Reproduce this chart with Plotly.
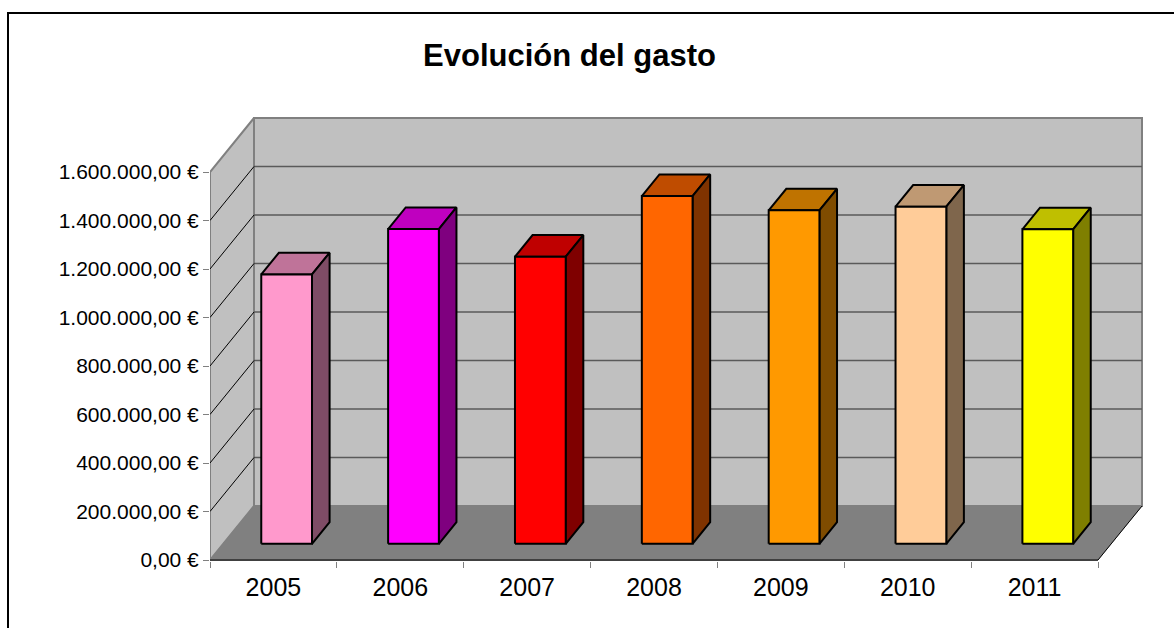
import plotly.graph_objects as go

# ---------------- data ----------------
years = ["2005", "2006", "2007", "2008", "2009", "2010", "2011"]
gasto = [1111000, 1298000, 1184000, 1434000, 1375000, 1390000, 1297000]
y_ticks = [0, 200000, 400000, 600000, 800000, 1000000, 1200000, 1400000, 1600000]


def euro(v):
    s = f"{v:,.2f}".replace(",", "X").replace(".", ",").replace("X", ".")
    return s + " €"


y_tick_labels = [euro(v) for v in y_ticks]

# ---------------- style ----------------
front_colors = ["#FF99CC", "#FF00FF", "#FF0000", "#FF6600", "#FF9900", "#FFCC99", "#FFFF00"]
top_colors = ["#BF7399", "#BF00BF", "#BF0000", "#BF4C00", "#BF7300", "#BF9973", "#BFBF00"]
side_colors = ["#7F4C66", "#7F007F", "#7F0000", "#7F3300", "#7F4C00", "#7F664C", "#7F7F00"]
FONT = "Liberation Sans, Arial, sans-serif"

W, H = 1174, 628
L, R, T, B = 210, 24, 100, 67
CAT_PX = 888 / 7            # pixels per category on the front plane
UNITS_PER_PX = 4123.7       # value units per vertical pixel
DEPTH_DX_PX, DEPTH_DY_PX = 44, 54
BAR_W = 0.4
BAR_D0, BAR_D1 = 0.3, 0.7

n = len(years)
x0, x1 = -0.5, n - 0.5
ymax = y_ticks[-1]


def off(d):
    return DEPTH_DX_PX * d / CAT_PX, DEPTH_DY_PX * d * UNITS_PER_PX


bx, by = off(1.0)
x_range = [-0.5, -0.5 + (W - L - R) / CAT_PX]
y_range = [-(H - B - 560) * UNITS_PER_PX, (560 - T) * UNITS_PER_PX]

fig = go.Figure()


def poly(xs, ys, fill, line_color, line_width, name=None):
    fig.add_trace(go.Scatter(
        x=xs, y=ys, mode="lines", fill="toself", fillcolor=fill, name=name,
        line=dict(color=line_color, width=line_width), hoverinfo="skip",
        showlegend=False))


def lines(xs, ys, color, width):
    fig.add_trace(go.Scatter(
        x=xs, y=ys, mode="lines", line=dict(color=color, width=width),
        hoverinfo="skip", showlegend=False))


# left wall
poly([x0, x0 + bx, x0 + bx, x0, x0], [0, by, ymax + by, ymax, 0], "#C0C0C0", "#808080", 2)
# back wall
poly([x0 + bx, x1 + bx, x1 + bx, x0 + bx, x0 + bx], [by, by, ymax + by, ymax + by, by],
     "#C0C0C0", "#808080", 2)
# floor
poly([x0, x1, x1 + bx, x0 + bx, x0], [0, 0, by, by, 0], "#808080", "#808080", 0.5)

# gridlines on back wall and left wall
gx, gy, dx_, dy_ = [], [], [], []
for v in y_ticks[1:-1]:
    gx += [x0 + bx, x1 + bx, None]
    gy += [v + by, v + by, None]
    dx_ += [x0, x0 + bx, None]
    dy_ += [v, v + by, None]
lines(gx, gy, "#5A5A5A", 1.5)
lines(dx_, dy_, "#000000", 1)

# floor edges
lines([x0, x1], [0, 0], "#404040", 2)
lines([x1, x1 + bx], [0, by], "#000000", 1)

# bars: front, top and side faces, computed from the values
fx0, fy0 = off(BAR_D0)
fx1, fy1 = off(BAR_D1)
ddx, ddy = fx1 - fx0, fy1 - fy0
for i, v in enumerate(gasto):
    xl = i - BAR_W / 2 + fx0
    xr = i + BAR_W / 2 + fx0
    top_y = v + fy0
    poly([xl, xr, xr + ddx, xl + ddx, xl], [top_y, top_y, top_y + ddy, top_y + ddy, top_y],
         top_colors[i], "#000000", 2)
    poly([xr, xr + ddx, xr + ddx, xr, xr], [fy0, fy0 + ddy, top_y + ddy, top_y, fy0],
         side_colors[i], "#000000", 2)
    poly([xl, xr, xr, xl, xl], [fy0, fy0, top_y, top_y, fy0],
         front_colors[i], "#000000", 2, name=years[i])

# invisible trace to hold the tick-mark axis
fig.add_trace(go.Scatter(x=[0], y=[0], xaxis="x2", mode="markers",
                         marker=dict(opacity=0), hoverinfo="skip", showlegend=False))

fig.update_layout(
    width=W, height=H,
    margin=dict(l=L, r=R, t=T, b=B, pad=0),
    paper_bgcolor="white", plot_bgcolor="rgba(0,0,0,0)",
    showlegend=False,
    title=dict(text="<b>Evolución del gasto</b>", x=569.5 / W, xanchor="center",
               xref="container", yref="container", y=1 - 55 / H, yanchor="middle",
               font=dict(family=FONT, size=31, color="black")),
    font=dict(family=FONT, color="black"),
    xaxis=dict(range=x_range, tickmode="array", tickvals=list(range(n)), ticktext=years,
               ticks="", showgrid=False, zeroline=False, showline=False,
               ticklabelstandoff=9,
               tickfont=dict(family=FONT, size=25, color="black")),
    xaxis2=dict(range=x_range, overlaying="x", anchor="y", side="bottom",
                tickmode="array", tickvals=[i - 0.5 for i in range(n + 1)],
                ticks="outside", ticklen=6, tickcolor="#808080", tickwidth=1,
                showticklabels=False, showgrid=False, zeroline=False, showline=False),
    yaxis=dict(range=y_range, tickmode="array", tickvals=y_ticks, ticktext=y_tick_labels,
               ticks="outside", ticklen=6, tickcolor="#808080", tickwidth=1,
               showgrid=False, zeroline=False, showline=False,
               tickfont=dict(family=FONT, size=21, color="black")),
    shapes=[dict(type="rect", xref="paper", yref="paper",
                 x0=(8 - L) / (W - L - R), x1=(W + 20 - L) / (W - L - R),
                 y0=-(H + 20 - (H - B)) / (H - T - B), y1=((H - B) - 13) / (H - T - B),
                 line=dict(color="black", width=2), fillcolor="rgba(0,0,0,0)", layer="above")],
)

fig.write_html("out.html", config={"displayModeBar": False},
               post_script="document.body.style.margin='0';")
